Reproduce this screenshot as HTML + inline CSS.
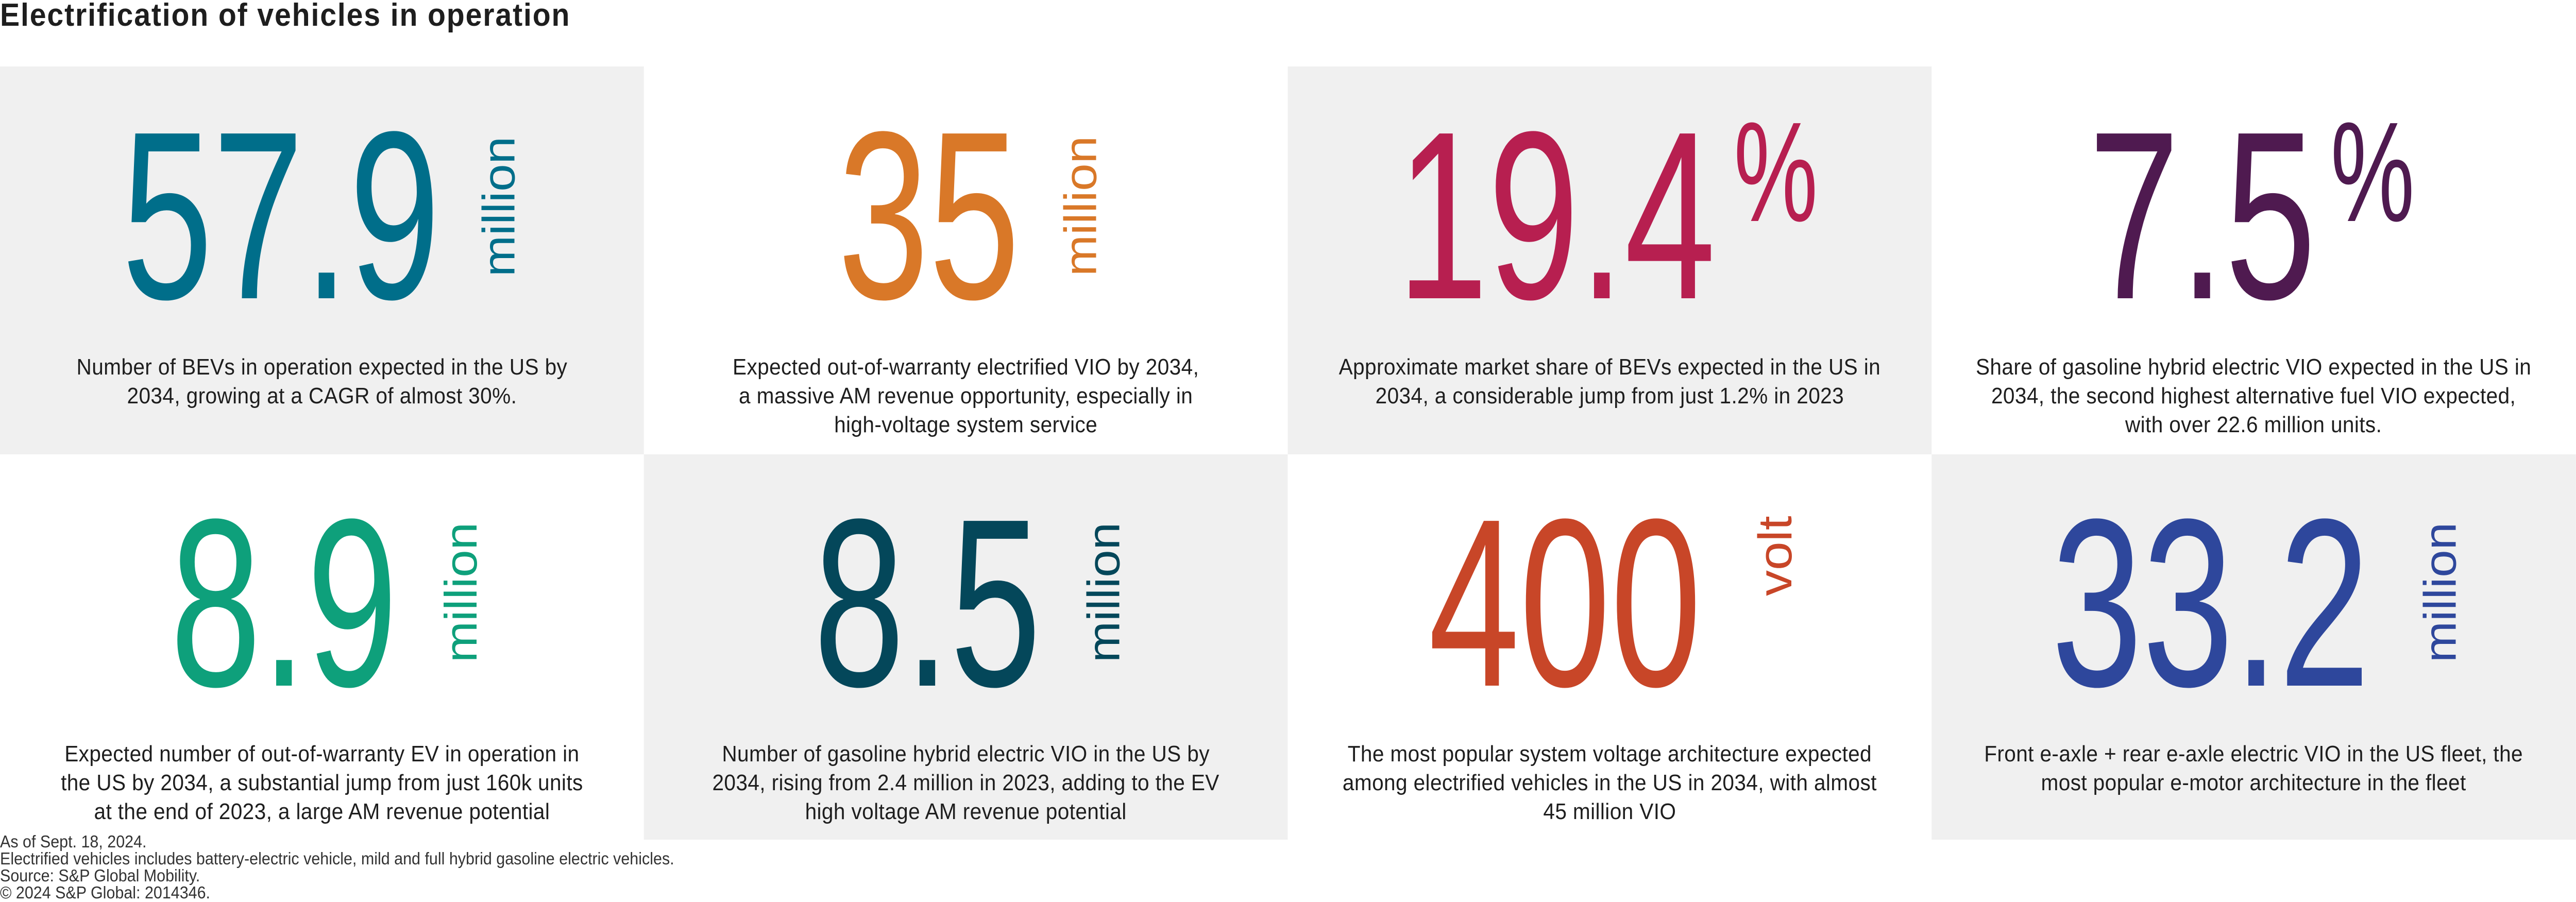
<!DOCTYPE html>
<html style="margin:0;padding:0;overflow:hidden"><head><meta charset="utf-8"><style>
html,body{margin:0;padding:0}
body{background:#fff;overflow:hidden;font-family:"Liberation Sans",sans-serif;color:#1e1e1e}
#w{position:relative;width:5417px;height:1751px;overflow:hidden;transform-origin:left top;transform:scaleX(0.923)}
#w div{position:absolute}
.g{background:#f0f0f0}
.n{font-size:465px;line-height:465px;white-space:nowrap;transform-origin:left top;transform:scaleX(0.74)}
.p{font-size:276px;line-height:276px;white-space:nowrap;transform-origin:left top;transform:scaleX(0.72)}
.m{font-size:96px;line-height:96px;white-space:nowrap;transform-origin:left top;transform:rotate(-90deg)}
.d{font-size:44px;line-height:56px;letter-spacing:0.4px;text-align:center;white-space:nowrap;width:1354px}
</style></head><body><div id="w">
<div style="left:0;top:0;font-size:62px;line-height:60px;font-weight:bold;letter-spacing:2px;white-space:nowrap">Electrification of vehicles in operation</div>

<div class="g" style="left:0;top:129px;width:1354px;height:753px"></div>
<div class="g" style="left:2708px;top:129px;width:1354px;height:753px"></div>
<div class="g" style="left:1354px;top:882px;width:1354px;height:748px"></div>
<div class="g" style="left:4062px;top:882px;width:1355px;height:748px"></div>

<div class="n" style="left:256px;top:186px;color:#006e8a">57.9</div>
<div class="m" style="left:1002px;top:537px;color:#006e8a">million</div>
<div class="d" style="left:0;top:685px">Number of BEVs in operation expected in the US by<br>2034, growing at a CAGR of almost 30%.</div>

<div class="n" style="left:1762px;top:186px;color:#d97828">35</div>
<div class="m" style="left:2225px;top:536px;color:#d97828">million</div>
<div class="d" style="left:1354px;top:685px">Expected out-of-warranty electrified VIO by 2034,<br>a massive AM revenue opportunity, especially in<br>high-voltage system service</div>

<div class="n" style="left:2938px;top:186px;color:#b71f50">19.4</div>
<div class="p" style="left:3646px;top:196px;color:#b71f50">%</div>
<div class="d" style="left:2708px;top:685px">Approximate market share of BEVs expected in the US in<br>2034, a considerable jump from just 1.2% in 2023</div>

<div class="n" style="left:4392px;top:186px;color:#4f1a50">7.5</div>
<div class="p" style="left:4901px;top:196px;color:#4f1a50">%</div>
<div class="d" style="left:4062px;top:685px">Share of gasoline hybrid electric VIO expected in the US in<br>2034, the second highest alternative fuel VIO expected,<br>with over 22.6 million units.</div>

<div class="n" style="left:358px;top:938px;color:#0ea07b">8.9</div>
<div class="m" style="left:922px;top:1286px;color:#0ea07b">million</div>
<div class="d" style="left:0;top:1436px">Expected number of out-of-warranty EV in operation in<br>the US by 2034, a substantial jump from just 160k units<br>at the end of 2023, a large AM revenue potential</div>

<div class="n" style="left:1711px;top:938px;color:#04475a">8.5</div>
<div class="m" style="left:2274px;top:1286px;color:#04475a">million</div>
<div class="d" style="left:1354px;top:1436px">Number of gasoline hybrid electric VIO in the US by<br>2034, rising from 2.4 million in 2023, adding to the EV<br>high voltage AM revenue potential</div>

<div class="n" style="left:3004px;top:938px;color:#c84628">400</div>
<div class="m" style="left:3683px;top:1157px;font-size:100px;line-height:100px;color:#c84628">volt</div>
<div class="d" style="left:2708px;top:1436px">The most popular system voltage architecture expected<br>among electrified vehicles in the US in 2034, with almost<br>45 million VIO</div>

<div class="n" style="left:4314px;top:938px;color:#2e479c">33.2</div>
<div class="m" style="left:5084px;top:1286px;color:#2e479c">million</div>
<div class="d" style="left:4062px;top:1436px">Front e-axle + rear e-axle electric VIO in the US fleet, the<br>most popular e-motor architecture in the fleet</div>

<div style="left:0;top:1617px;font-size:33px;line-height:33px;white-space:nowrap;color:#333">As of Sept. 18, 2024.<br>Electrified vehicles includes battery-electric vehicle, mild and full hybrid gasoline electric vehicles.<br>Source: S&amp;P Global Mobility.<br>© 2024 S&amp;P Global: 2014346.</div>
</div></body></html>
